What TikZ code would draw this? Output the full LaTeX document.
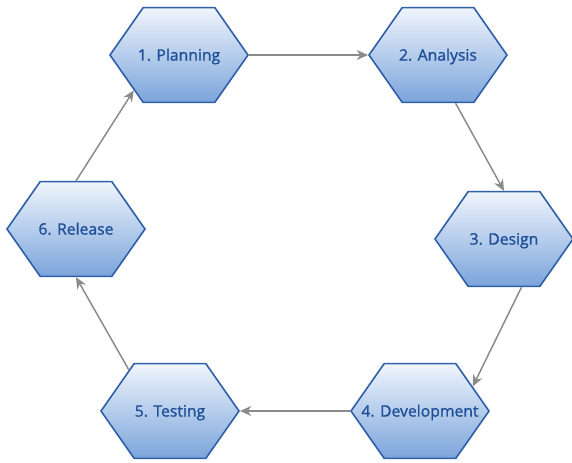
\documentclass[tikz,border=0pt]{standalone}
\usepackage{fontspec}
\setmainfont{Open Sans}
\newfontfamily\phasefont[FakeBold=1.2]{Open Sans}
\usetikzlibrary{shapes.symbols,arrows.meta}
\definecolor{hexborder}{HTML}{2E5FA8}
\definecolor{hextop}{HTML}{F0F5FC}
\definecolor{hexbottom}{HTML}{7BA4DB}
\definecolor{hextext}{HTML}{1E4F98}
\definecolor{flowgray}{HTML}{8A8A8A}
\newcommand{\phasetext}[1]{\raisebox{-4.2pt}[0pt][0pt]{\makebox[0pt]{#1}}}
\begin{document}
\begin{tikzpicture}[x=0.75pt,y=-0.75pt]
    \tikzstyle{phase}=[signal, signal to=west and east, signal pointer angle=110,
        draw=hexborder, line width=1.2pt, top color=hextop, bottom color=hexbottom,
        text=hextext, font=\phasefont\fontsize{11.8}{14}\selectfont,
        minimum width=103.5pt, minimum height=71pt, inner sep=0pt]
    \tikzstyle{flow}=[draw=flowgray, line width=1.1pt, -{Stealth[length=8.5pt,width=7.5pt]}]
    \useasboundingbox (0,0) rectangle (572,462);
    \node [phase] (plan) at (179,55) {\phasetext{1. Planning}};
    \node [phase] (analysis) at (438,55) {\phasetext{2. Analysis}};
    \node [phase] (design) at (504,239) {\phasetext{3. Design}};
    \node [phase] (develop) at (420,411) {\phasetext{4. Development}};
    \node [phase] (testing) at (170,411) {\phasetext{5. Testing}};
    \node [phase] (release) at (76,229) {\phasetext{6. Release}};
    \draw [flow] (plan) -- (analysis);
    \draw [flow] (analysis.-70) -- (design.north);
    \draw [flow] (design.-70) -- (develop.25);
    \draw [flow] (develop) -- (testing);
    \draw [flow] (testing.135) -- (release.south);
    \draw [flow] (release.north) -- (plan.218);
\end{tikzpicture}
\end{document}
